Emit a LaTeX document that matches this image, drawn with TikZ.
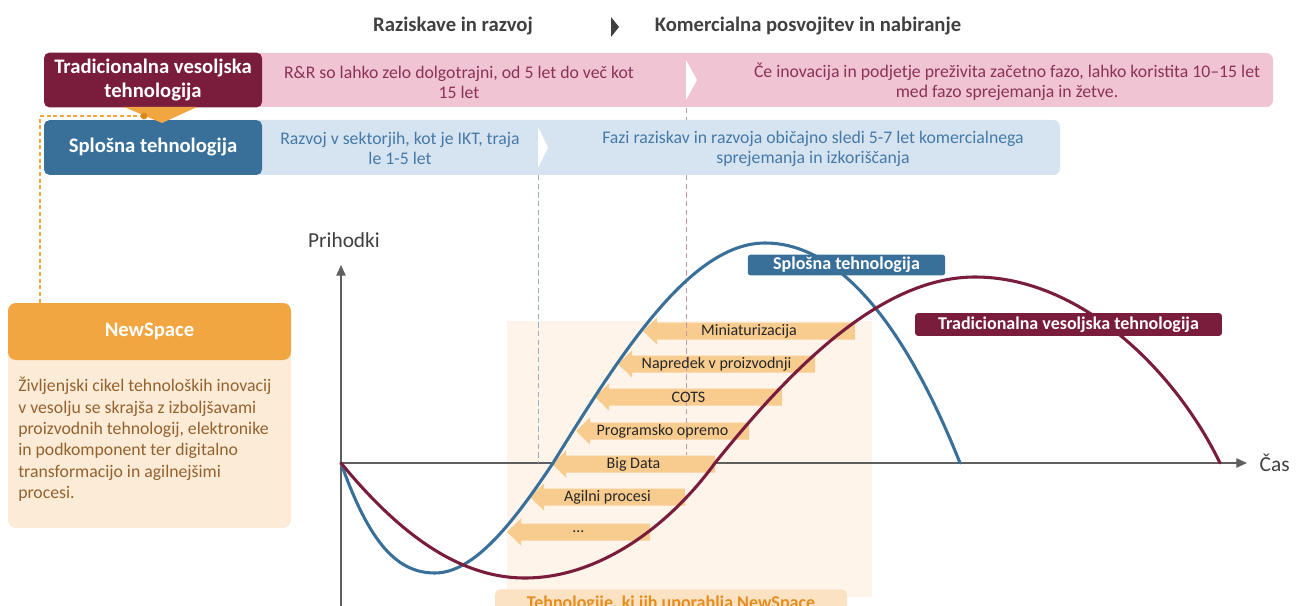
\documentclass[tikz,border=0pt]{standalone}
\usepackage{fontspec}
\setmainfont{Carlito}
\usetikzlibrary{positioning,arrows.meta}

\definecolor{tradred}{HTML}{7A1C3B}
\definecolor{tradpink}{HTML}{F1C4D3}
\definecolor{tradtext}{HTML}{8A3257}
\definecolor{genblue}{HTML}{38709A}
\definecolor{genlight}{HTML}{D5E4F0}
\definecolor{gentext}{HTML}{4679A8}
\definecolor{nsorange}{HTML}{F2A641}
\definecolor{nsdot}{HTML}{D98A1E}
\definecolor{nslight}{HTML}{FCEBD6}
\definecolor{nsbrown}{HTML}{93622F}
\definecolor{techfill}{HTML}{F8CC8F}
\definecolor{techback}{HTML}{FEF4EA}
\definecolor{techlabelbg}{HTML}{FBE2C2}
\definecolor{techtext}{HTML}{E58E1F}
\definecolor{darktext}{HTML}{404040}
\definecolor{axisgray}{HTML}{5F5F5F}

\tikzset{
  headbox/.style={rounded corners=4pt, text=white, font=\fontsize{15.5}{18.5}\selectfont\bfseries,
    align=center, minimum width=163.5pt, minimum height=41pt, inner sep=0pt},
  bartext/.style={font=\fontsize{13.3}{15}\selectfont, align=center},
  phase/.style={font=\fontsize{15.5}{18}\selectfont\bfseries, text=darktext},
  curvelabel/.style={rounded corners=2pt, text=white, font=\fontsize{13.5}{15}\selectfont\bfseries, inner sep=0pt},
  techlabel/.style={font=\fontsize{12}{14}\selectfont, text=black!85},
  axisline/.style={draw=axisgray, line width=0.9pt, -{Triangle[length=8pt,width=7pt]}},
  lifecurve/.style={line width=2.3pt, line cap=round},
  phaseline/.style={line width=0.6pt, dash pattern=on 4pt off 2.5pt},
}

\begin{document}
\begin{tikzpicture}[x=0.75pt,y=-0.75pt]
\useasboundingbox (0,0) rectangle (1300,606);
\clip (0,0) rectangle (1300,606);

% phases on top
\node[phase] (rnd) at (453,26) {Raziskave in razvoj};
\fill[darktext] (611,17) -- (619,27) -- (611,37) -- cycle;
\node[phase] (comm) at (808,26) {Komercialna posvojitev in nabiranje};

% bars
\fill[tradpink, rounded corners=5pt] (200,53) rectangle (1273,107);
\fill[white] (686,60) -- (697,80) -- (686,100) -- cycle;
\fill[genlight, rounded corners=5pt] (200,120) rectangle (1060,175);
\fill[white] (538,127) -- (548,147.5) -- (538,168) -- cycle;

\node[headbox, fill=tradred] (trad) at (153,80) {Tradicionalna vesoljska\\tehnologija};
\node[headbox, fill=genblue] (gen) at (153,147.5) {Splošna tehnologija};

\node[bartext, text=tradtext] (tradrd) at (459,82) {R\&R so lahko zelo dolgotrajni, od 5 let do več kot\\15 let};
\node[bartext, text=tradtext] (tradcom) at (1007,82) {Če inovacija in podjetje preživita začetno fazo, lahko koristita 10–15 let\\med fazo sprejemanja in žetve.};
\node[bartext, text=gentext] (genrd) at (400,148.5) {Razvoj v sektorjih, kot je IKT, traja\\le 1-5 let};
\node[bartext, text=gentext] (gencom) at (813,148.5) {Fazi raziskav in razvoja običajno sledi 5-7 let komercialnega\\sprejemanja in izkoriščanja};

% NewSpace link
\fill[nsorange] (124,107) -- (197,107) -- (162,123) -- cycle;
\coordinate (dot) at (144,116);
\coordinate (nstop) at (40,303);
\draw[nsorange, line width=0.8pt, dash pattern=on 3pt off 2pt] (dot) -| (nstop);
\fill[nsdot] (dot) circle (2.6pt);

% NewSpace panel
\fill[nslight, rounded corners=6pt] (8,303) rectangle (291,528);
\fill[nsorange, rounded corners=6pt] (8,303) rectangle (291,360);
\node[font=\fontsize{15.5}{18}\selectfont\bfseries, text=white] (newspace) at (149.5,331) {NewSpace};
\node[anchor=north west, align=left, text=nsbrown, font=\fontsize{13.3}{16}\selectfont, inner sep=0pt]
  (nsbody) at (18,377) {Življenjski cikel tehnoloških inovacij\\v vesolju se skrajša z izboljšavami\\proizvodnih tehnologij, elektronike\\in podkomponent ter digitalno\\transformacijo in agilnejšimi\\procesi.};

% technologies used by NewSpace
\fill[techback] (507,321) rectangle (872,597);

% axes
\coordinate (origin) at (341,463);
\draw[axisline] (341,606) -- (341,265);
\draw[axisline] (origin) -- (1247,463);
\node[anchor=west, font=\fontsize{16}{18}\selectfont, text=darktext] (cas) at (1255,463) {Čas};
\node[font=\fontsize{16}{18}\selectfont, text=darktext] (prihodki) at (344,240) {Prihodki};

\foreach \tip/\rgt/\yy in {643/855/331, 618/815/364, 595/782/397, 576/749/431, 552/715/464, 530/685/497, 507/650/532}
  \fill[techfill] (\tip,\yy) -- (\tip+14,\yy-13.5) -- (\tip+14,\yy-8.5) -- (\rgt,\yy-8.5)
    -- (\rgt,\yy+8.5) -- (\tip+14,\yy+8.5) -- (\tip+14,\yy+13.5) -- cycle;

\draw[phaseline, genblue!55] (538,175) -- (538,463);
\draw[phaseline, tradred!45] (686,108) -- (686,120);
\draw[phaseline, tradred!45] (686,175) -- (686,455);

\foreach \tip/\rgt/\yy/\txt in {643/855/331/Miniaturizacija, 618/815/364/Napredek v proizvodnji,
    595/782/397/COTS, 576/749/431/Programsko opremo, 552/715/464/Big Data,
    530/685/497/Agilni procesi, 507/650/532/\dots}
  \node[techlabel] (tech\yy) at ({(\tip+\rgt)/2},\yy) {\txt};

\node[fill=techlabelbg, rounded corners=4pt, text=techtext, font=\fontsize{13.5}{15}\selectfont\bfseries,
  minimum width=264pt, minimum height=22pt, inner sep=0pt] (techused) at (671,604) {Tehnologije, ki jih uporablja NewSpace};

% life cycle curves
\draw[lifecurve, genblue] (341,463) .. controls (370,545) and (398,573) .. (435,573)
  .. controls (475,573) and (515,520) .. (553,463)
  .. controls (620,355) and (690,243) .. (765,243)
  .. controls (850,243) and (915,350) .. (960,463);
\draw[lifecurve, tradred] (341,463) .. controls (400,535) and (460,578) .. (525,578)
  .. controls (600,578) and (670,525) .. (715,463)
  .. controls (790,370) and (880,277) .. (975,277)
  .. controls (1080,277) and (1175,370) .. (1220,463);

\node[curvelabel, fill=genblue, minimum width=148pt, minimum height=15.5pt] (genlabel) at (846.5,265) {Splošna tehnologija};
\node[curvelabel, fill=tradred, minimum width=230pt, minimum height=17pt] (tradlabel) at (1068.5,324.5) {Tradicionalna vesoljska tehnologija};
\end{tikzpicture}
\end{document}
